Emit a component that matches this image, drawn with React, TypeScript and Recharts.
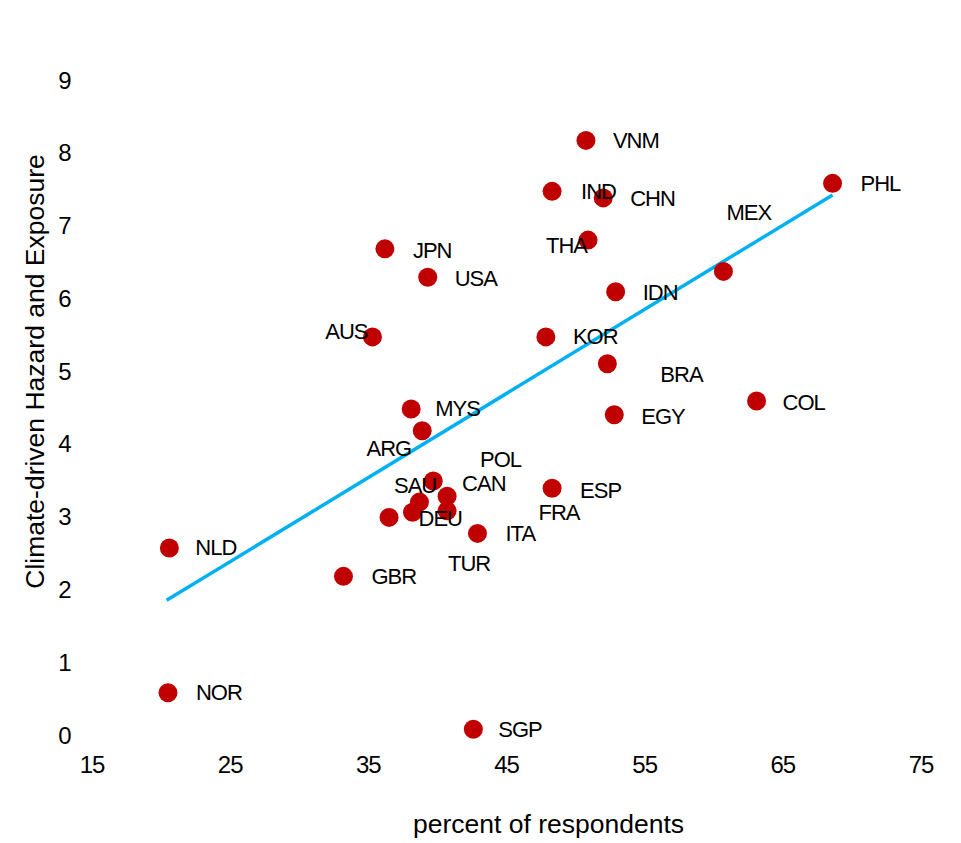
import { Label, Scatter, ScatterChart, XAxis, YAxis } from "recharts";

// country codes, survey share (x) and hazard/exposure score (y)
const countries = [
  "VNM", "IND", "CHN", "THA", "MEX", "IDN", "PHL", "KOR", "BRA", "COL",
  "EGY", "JPN", "USA", "AUS", "MYS", "ARG", "SAU", "CAN", "FRA", "DEU",
  "POL", "TUR", "ITA", "ESP", "NLD", "GBR", "NOR", "SGP",
];
const respondents = [
  50.75, 48.3, 52.0, 50.9, 60.7, 52.9, 68.6, 47.85, 52.3, 63.1,
  52.8, 36.2, 39.3, 35.3, 38.1, 38.9, 39.7, 40.7, 38.7, 38.2,
  40.7, 36.5, 42.9, 48.3, 20.6, 33.2, 20.5, 42.6,
];
const hazard = [
  8.17, 7.47, 7.38, 6.8, 6.37, 6.09, 7.58, 5.47, 5.1, 4.59,
  4.4, 6.68, 6.29, 5.47, 4.48, 4.18, 3.49, 3.28, 3.2, 3.06,
  3.08, 2.99, 2.77, 3.39, 2.57, 2.18, 0.58, 0.08,
];
const trendX = [20.4, 68.6];
const trendY = [1.85, 7.42];
const xTicks = [15, 25, 35, 45, 55, 65, 75];
const yTicks = [0, 1, 2, 3, 4, 5, 6, 7, 8, 9];

// label placement relative to each dot (px), as moved by hand in the original
const labelPos: Record<string, { dx: number; dy: number; end?: boolean }> = {
  VNM: { dx: 27, dy: 0 },
  IND: { dx: 29, dy: 0 },
  CHN: { dx: 27, dy: 1 },
  THA: { dx: -1, dy: 5, end: true },
  MEX: { dx: 3, dy: -59 },
  IDN: { dx: 27, dy: 1 },
  PHL: { dx: 28, dy: 0 },
  KOR: { dx: 27, dy: 0 },
  BRA: { dx: 53, dy: 11 },
  COL: { dx: 26, dy: 2 },
  EGY: { dx: 27, dy: 2 },
  JPN: { dx: 28, dy: 2 },
  USA: { dx: 27, dy: 1 },
  AUS: { dx: -5, dy: -5, end: true },
  MYS: { dx: 24, dy: 0 },
  ARG: { dx: -11, dy: 18, end: true },
  SAU: { dx: 3, dy: 4, end: true },
  CAN: { dx: 15, dy: -13 },
  FRA: { dx: 119, dy: 10 },
  DEU: { dx: 6, dy: 6 },
  POL: { dx: 33, dy: -51 },
  TUR: { dx: 59, dy: 46 },
  ITA: { dx: 28, dy: 0 },
  ESP: { dx: 28, dy: 2 },
  NLD: { dx: 26, dy: 0 },
  GBR: { dx: 28, dy: 0 },
  NOR: { dx: 28, dy: 0 },
  SGP: { dx: 25, dy: 0 },
};

const points = countries.map((name, i) => ({ name, x: respondents[i], y: hazard[i] }));
const trend = trendX.map((x, i) => ({ x, y: trendY[i] }));

const FONT = '"Liberation Sans", Arial, sans-serif';

const Dot = (props: any) => <circle cx={props.cx} cy={props.cy} r={9.5} fill="#C00000" />;

const NameLabel = (props: any) => {
  const p = labelPos[props.payload?.name] ?? { dx: 27, dy: 0 };
  return (
    <text
      x={props.cx + p.dx}
      y={props.cy + p.dy}
      textAnchor={p.end ? "end" : "start"}
      dominantBaseline="central"
      fontFamily={FONT}
      fontSize={22}
      letterSpacing={-1}
      fill="#000"
    >
      {props.payload?.name}
    </text>
  );
};

const Nothing = () => <g />;

const XTick = (props: any) => (
  <text x={props.x} y={764} textAnchor="middle" dominantBaseline="central" fontFamily={FONT} fontSize={24} letterSpacing={-1} fill="#000">
    {props.payload.value}
  </text>
);

const YTick = (props: any) => (
  <text x={65} y={props.y} textAnchor="middle" dominantBaseline="central" fontFamily={FONT} fontSize={24} fill="#000">
    {props.payload.value}
  </text>
);

const XTitle = (props: any) => {
  const vb = props.viewBox;
  return (
    <text x={vb.x + vb.width / 2 + 42} y={833} textAnchor="middle" fontFamily={FONT} fontSize={26.5} fill="#000">
      percent of respondents
    </text>
  );
};

const YTitle = (props: any) => {
  const vb = props.viewBox;
  const cy = vb.y + vb.height / 2 - 36;
  return (
    <text x={44} y={cy} transform={`rotate(-90, 44, ${cy})`} textAnchor="middle" fontFamily={FONT} fontSize={26.5} fill="#000">
      Climate-driven Hazard and Exposure
    </text>
  );
};

export default function App() {
  return (
    <div style={{ position: "absolute", left: 0, top: 0, width: 961, height: 843 }}>
      <ScatterChart width={961} height={843} margin={{ top: 80, right: 40, bottom: 0, left: 0 }}>
        <XAxis
          type="number"
          dataKey="x"
          domain={[15, 75]}
          ticks={xTicks}
          axisLine={false}
          tickLine={false}
          height={108}
          tick={<XTick />}
        >
          <Label content={<XTitle />} />
        </XAxis>
        <YAxis
          type="number"
          dataKey="y"
          domain={[0, 9]}
          ticks={yTicks}
          axisLine={false}
          tickLine={false}
          width={92}
          tick={<YTick />}
        >
          <Label content={<YTitle />} />
        </YAxis>
        <Scatter
          data={trend}
          line={{ stroke: "#00B0F0", strokeWidth: 3.5 }}
          shape={<Nothing />}
          isAnimationActive={false}
        />
        <Scatter data={points} shape={<Dot />} isAnimationActive={false} />
        <Scatter data={points} shape={<NameLabel />} isAnimationActive={false} />
      </ScatterChart>
    </div>
  );
}
